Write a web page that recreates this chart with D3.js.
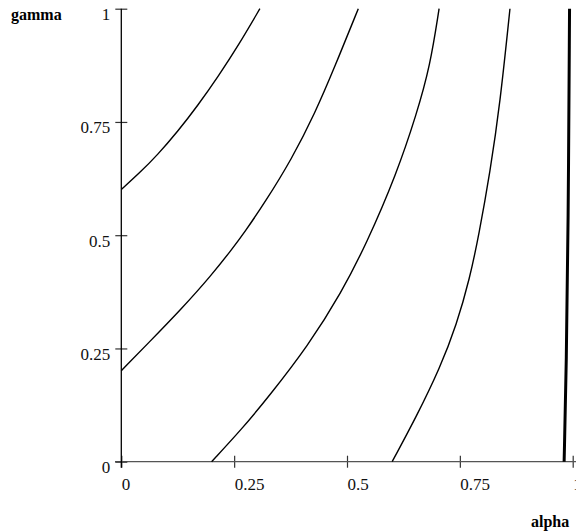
<!DOCTYPE html>
<html>
<head>
<meta charset="utf-8">
<script src="https://cdn.jsdelivr.net/npm/d3@7"></script>
<style>
  body { margin: 0; background: #fff; }
  svg { display: block; font-family: "Liberation Serif", "Times New Roman", serif; }
</style>
</head>
<body>
<div id="chart"></div>
<script>
// contour curves, [alpha, gamma]
const curve1 = [[0, 0.601], [0.040, 0.637], [0.080, 0.677], [0.125, 0.729], [0.170, 0.787], [0.215, 0.851], [0.260, 0.920], [0.307, 1.0]];
const curve2 = [[0, 0.201], [0.060, 0.262], [0.134, 0.338], [0.200, 0.412], [0.245, 0.469], [0.272, 0.505], [0.318, 0.572],
    [0.377, 0.667], [0.429, 0.769], [0.473, 0.872], [0.525, 1.0]];
const curve3 = [[0.200, 0], [0.267, 0.072], [0.326, 0.143], [0.414, 0.256], [0.488, 0.374], [0.543, 0.481], [0.610, 0.636],
    [0.654, 0.767], [0.684, 0.873], [0.704, 1.0]];
const curve4 = [[0.600, 0], [0.654, 0.100], [0.706, 0.207], [0.743, 0.303], [0.772, 0.405], [0.792, 0.500], [0.817, 0.640],
    [0.839, 0.790], [0.861, 1.0]];
const curve5 = [[0.981, 0], [0.986, 0.217], [0.990, 0.511], [0.993, 1.0]];
const curves = [curve1, curve2, curve3, curve4];

const xTicks = [0, 0.25, 0.5, 0.75, 1];
const yTicks = [0, 0.25, 0.5, 0.75, 1];
const xTitle = "alpha";
const yTitle = "gamma";

function drawChart() {
    const width = 576, height = 531;
    const margin = {left: 121.3, top: 8.7, right: 3.3, bottom: 69.3};
    const svg = d3.select("#chart").append("svg").attr("width", width).attr("height", height);

    const x = d3.scaleLinear().domain([0, 1]).range([margin.left, width - margin.right]);
    const y = d3.scaleLinear().domain([0, 1]).range([height - margin.bottom, margin.top]);
    const fmt = d3.format("~g");

    // x axis
    const gx = svg.append("g").attr("transform", `translate(0,${y(0)})`)
        .call(d3.axisBottom(x).tickValues(xTicks).tickFormat(fmt).tickSize(6).tickSizeOuter(0));
    gx.select(".domain").remove();
    gx.append("line").attr("x1", 115).attr("x2", width).attr("stroke", "#555").attr("stroke-width", 1.3);
    gx.selectAll(".tick line").attr("y1", -6).attr("y2", 6).attr("stroke", "#333").attr("stroke-width", 1.2);
    gx.selectAll(".tick text").attr("text-anchor", "start").attr("y", 28).attr("dy", null)
        .attr("font-size", 17).attr("font-family", "Liberation Serif").attr("fill", "#111");

    // y axis
    const gy = svg.append("g").attr("transform", `translate(${x(0)},0)`)
        .call(d3.axisLeft(y).tickValues(yTicks).tickFormat(fmt).tickSize(6).tickSizeOuter(0));
    gy.select(".domain").remove();
    gy.append("line").attr("y1", y(1)).attr("y2", y(0) + 6).attr("stroke", "#000").attr("stroke-width", 1.3);
    gy.selectAll(".tick line").attr("x1", -6).attr("x2", 6).attr("stroke", "#333").attr("stroke-width", 1.2);
    gy.selectAll(".tick text").attr("x", -11).attr("y", 11).attr("dy", null)
        .attr("font-size", 17).attr("font-family", "Liberation Serif").attr("fill", "#111");

    // axis titles
    svg.append("text").attr("x", 11).attr("y", 19.5).attr("font-size", 16).attr("font-weight", "bold").text(yTitle);
    svg.append("text").attr("x", 531).attr("y", 527).attr("font-size", 16).attr("font-weight", "bold").text(xTitle);

    const line = d3.line().x(d => x(d[0])).y(d => y(d[1])).curve(d3.curveBasis);
    svg.append("g").selectAll("path").data(curves).join("path")
        .attr("d", line).attr("fill", "none").attr("stroke", "#000").attr("stroke-width", 1.4);
    svg.append("path").datum(curve5).attr("d", line)
        .attr("fill", "none").attr("stroke", "#000").attr("stroke-width", 3);
}

document.addEventListener("DOMContentLoaded", () => {
    drawChart();
});
</script>
</body>
</html>
